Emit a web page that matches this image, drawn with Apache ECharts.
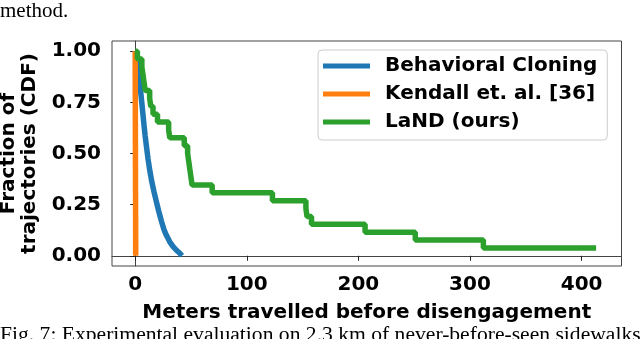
<!DOCTYPE html>
<html>
<head>
<meta charset="utf-8">
<script src="https://cdn.jsdelivr.net/npm/echarts@6/dist/echarts.min.js"></script>
<style>
  html, body { margin: 0; padding: 0; background: #fff; }
  #chart { width: 640px; height: 339px; }
</style>
</head>
<body>
<div id="chart"></div>
<script>
// tick labels
var xTicks = [0, 100, 200, 300, 400]
var yTicks = [0, 0.25, 0.5, 0.75, 1]

// Behavioral Cloning
var blueX = [0.5, 1, 2, 3, 4, 5, 6, 7, 8, 9, 10, 11.5, 13, 15, 17, 19, 21, 23.5, 26, 28, 31, 34, 37, 40, 42]
var blueY = [1.0, 0.98, 0.94, 0.9, 0.85, 0.8, 0.745, 0.69, 0.635, 0.585, 0.54, 0.475, 0.42, 0.36, 0.31, 0.265, 0.22, 0.17, 0.125, 0.1, 0.068, 0.045, 0.027, 0.012, 0.0]

// Kendall et. al.
var orangeX = [0, 0.5]
var orangeY = [1.0, 0.0]

// LaND (ours), step curve
var greenX = [0, 2, 6, 7, 8, 9, 13, 14, 16, 20, 30, 31, 44, 47, 48, 49, 50, 51, 69, 123, 153, 154, 158, 206, 251, 312, 413]
var greenY = [1.0, 0.962, 0.923, 0.885, 0.846, 0.808, 0.769, 0.731, 0.692, 0.654, 0.615, 0.577, 0.538, 0.5, 0.462, 0.423, 0.385, 0.346, 0.308, 0.269, 0.231, 0.192, 0.154, 0.115, 0.077, 0.038, 0.038]

function zip(xs, ys) {
  return xs.map(function (x, i) { return [x, ys[i]] })
}

var font = 'DejaVu Sans'
var chart = echarts.init(document.getElementById('chart'))
chart.setOption({
  animation: false,
  backgroundColor: '#fff',
  grid: {
    left: 112, right: 18.5, top: 41, bottom: 73,
    outerBoundsMode: 'none',
    show: true, borderColor: '#444', borderWidth: 1
  },
  legend: {
    orient: 'vertical',
    left: 318, top: 50,
    padding: [5, 10, 7, 5],
    itemGap: 6,
    itemWidth: 47, itemHeight: 5,
    icon: 'rect',
    backgroundColor: 'rgba(255,255,255,0.8)',
    borderColor: '#ccc', borderWidth: 1, borderRadius: 4,
    textStyle: {
      fontFamily: font, fontWeight: 'bold', fontSize: 20, color: '#000',
      lineHeight: 22, padding: [0, 0, 0, 10]
    },
    data: ['Behavioral Cloning', 'Kendall et. al. [36]', 'LaND (ours)']
  },
  xAxis: {
    type: 'value', min: -20.75, max: 435.75,
    name: 'Meters travelled before disengagement',
    nameLocation: 'middle', nameGap: 37,
    nameTextStyle: { fontFamily: font, fontWeight: 'bold', fontSize: 20, color: '#000' },
    axisLine: { show: true, lineStyle: { color: '#444', width: 1 } },
    axisTick: { show: true, length: 5, lineStyle: { color: '#222' }, customValues: xTicks },
    axisLabel: { fontFamily: font, fontWeight: 'bold', fontSize: 20, color: '#000', margin: 9, customValues: xTicks },
    splitLine: { show: false }
  },
  yAxis: {
    type: 'value', min: -0.05, max: 1.05,
    name: 'Fraction of\ntrajectories (CDF)',
    nameLocation: 'middle', nameGap: 67,
    nameTextStyle: { fontFamily: font, fontWeight: 'bold', fontSize: 20, color: '#000', lineHeight: 21 },
    axisLine: { show: true, lineStyle: { color: '#444', width: 1 } },
    axisTick: { show: true, length: 5, lineStyle: { color: '#222' }, customValues: yTicks },
    axisLabel: {
      fontFamily: font, fontWeight: 'bold', fontSize: 20, color: '#000', margin: 11,
      customValues: yTicks,
      formatter: function (v) { return v.toFixed(2) }
    },
    splitLine: { show: false }
  },
  graphic: [
    { type: 'text', left: 0, top: 1, style: { text: 'method.', font: '21px "Liberation Serif"', fill: '#000' } },
    { type: 'text', left: 0, top: 324, style: { text: 'Fig. 7: Experimental evaluation on 2.3 km of never-before-seen sidewalks', font: '21.6px "Liberation Serif"', fill: '#000' } }
  ],
  series: [
    {
      name: 'Behavioral Cloning', type: 'line', showSymbol: false, symbol: 'none',
      color: '#1f77b4', lineStyle: { width: 5.5, color: '#1f77b4' },
      data: zip(blueX, blueY)
    },
    {
      name: 'Kendall et. al. [36]', type: 'line', showSymbol: false, symbol: 'none',
      color: '#ff7f0e', lineStyle: { width: 5.5, color: '#ff7f0e' },
      data: zip(orangeX, orangeY)
    },
    {
      name: 'LaND (ours)', type: 'line', step: 'end', showSymbol: false, symbol: 'none',
      color: '#2ca02c', lineStyle: { width: 5.5, color: '#2ca02c' },
      data: zip(greenX, greenY)
    }
  ]
})
</script>
</body>
</html>
